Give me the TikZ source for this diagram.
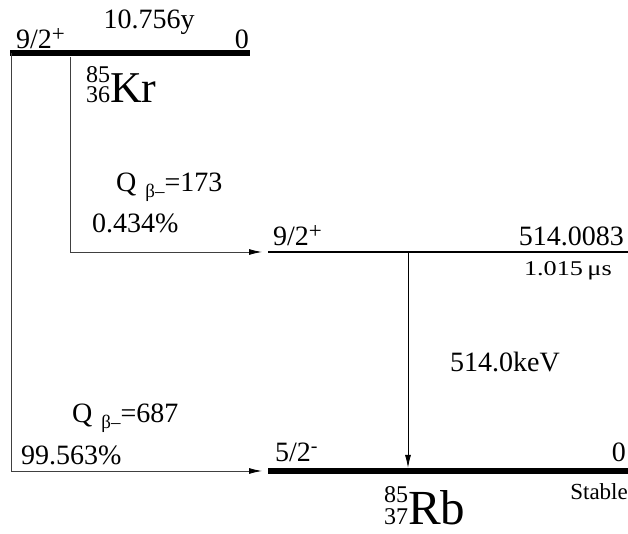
\documentclass[tikz,border=0pt]{standalone}
\usepackage{fontspec}
\setmainfont{Liberation Serif}
\usetikzlibrary{arrows.meta}
\newcommand{\fsz}[1]{\fontsize{#1}{#1}\selectfont}
\begin{document}
\begin{tikzpicture}[x=1pt,y=1pt,
  lbl/.style={inner sep=0pt, font=\fsz{28}},
  thicklevel/.style={line width=5.5pt},
  thinlevel/.style={line width=2.2pt},
  branch/.style={line width=0.9pt, draw=black!75, -{Latex[length=13pt,width=6pt,color=black]}},
  gam/.style={line width=0.9pt, -{Latex[length=13pt,width=6pt]}}]
\useasboundingbox (0,0) rectangle (628,534);
% levels
\coordinate (kl) at (10,481);
\coordinate (kr) at (250,481);
\coordinate (ml) at (268,282);
\coordinate (mr) at (628,282);
\coordinate (gl) at (268,63);
\coordinate (gr) at (628,63);
\draw[thicklevel] (kl) -- (kr);
\draw[thinlevel] (ml) -- (mr);
\draw[thicklevel] (gl) -- (gr);
% branches
\coordinate (b1s) at (11,481);
\coordinate (b1e) at (262,63);
\coordinate (b2s) at (70,477);
\coordinate (b2e) at (262,282);
\coordinate (gs) at (408,282);
\coordinate (ge) at (408,66);
\draw[branch] (b1s) |- (b1e);
\draw[branch] (b2s) |- (b2e);
\draw[gam] (gs) -- (ge);
% labels parent
\node[lbl, anchor=base west] (kspin) at (16,485) {9/2\raisebox{7pt}{\fsz{23}+}};
\node[lbl, anchor=base] (khl) at (149,505) {10.756y};
\node[lbl, anchor=base east] (ken) at (249,485) {0};
\node[inner sep=0pt, anchor=base west] (knuc) at (86,431) {{\fsz{24}\rlap{\raisebox{20.5pt}{85}}36}{\fsz{44}Kr}};
% Q labels
\node[lbl, anchor=base west] (q1) at (116,342) {Q\hspace{9pt}\raisebox{-6pt}{\fsz{19}β–}=173};
\node[lbl, anchor=base west] (p1) at (92,301) {0.434\%};
\node[lbl, anchor=base west] (q2) at (72,111) {Q\hspace{9pt}\raisebox{-6pt}{\fsz{19}β–}=687};
\node[lbl, anchor=base west] (p2) at (21,69) {99.563\%};
% middle level
\node[lbl, anchor=base west] (mspin) at (273,288) {9/2\raisebox{7pt}{\fsz{23}+}};
\node[lbl, anchor=base east] (men) at (624,288) {514.0083};
\node[lbl, anchor=base east, font=\fsz{21}, xscale=1.25, transform shape] (mhl) at (612,258) {1.015\,μs};
\node[lbl, anchor=base west] (genergy) at (450,162) {514.0keV};
% ground
\node[lbl, anchor=base west] (gspin) at (275,72) {5/2\raisebox{9pt}{\fsz{20}-}};
\node[lbl, anchor=base east] (gen) at (626,72) {0};
\node[lbl, anchor=base east, font=\fsz{23}] (stab) at (628,34) {Stable};
\node[inner sep=0pt, anchor=base west] (rbnuc) at (384,9) {{\fsz{24}\rlap{\raisebox{22pt}{85}}37}{\fsz{49}Rb}};
\end{tikzpicture}
\end{document}
